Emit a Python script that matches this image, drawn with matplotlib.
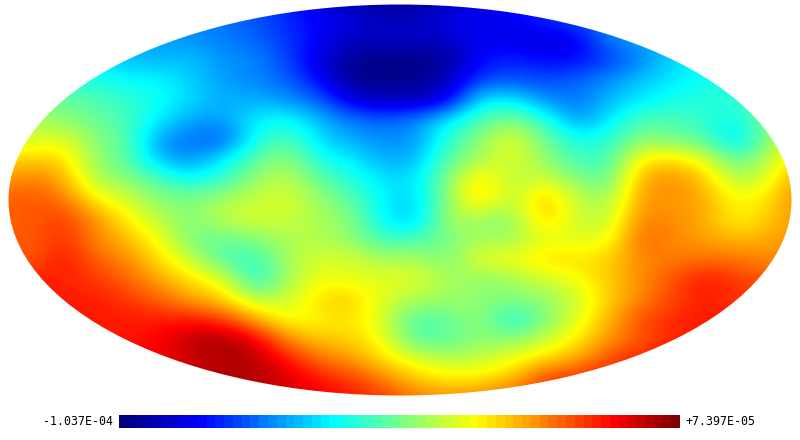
import numpy as np
import matplotlib
matplotlib.use("Agg")
import matplotlib.pyplot as plt
import matplotlib.patches as patches
from matplotlib.colors import LinearSegmentedColormap, Normalize

# map sample positions in picture pixels
x_px = np.arange(0, 801, 32)
y_px = np.arange(0, 401, 20)

vmin = -1.037e-4
vmax = 7.397e-5
vmin_label = "-1.037E-04"
vmax_label = "+7.397E-05"

# values, in units of 1e-6, one row per y_px
map_values = [
    [-45,-45,-45,-45,-50,-50,-55,-60,-65,-75,-85,-95,-100,-98,-90,-80,-80,-72,-65,-55,-50,-45,-40,-40,-35,-35],
    [-45,-45,-45,-45,-50,-50,-55,-60,-65,-72,-80,-85,-92,-90,-85,-82,-80,-72,-65,-55,-50,-45,-40,-40,-35,-35],
    [-40,-40,-40,-45,-50,-52,-55,-57,-62,-70,-80,-90,-90,-90,-88,-80,-84,-87,-84,-58,-50,-45,-40,-35,-35,-35],
    [-35,-35,-35,-40,-47,-48,-45,-55,-55,-68,-85,-101,-102,-103,-100,-78,-72,-78,-78,-70,-58,-42,-38,-35,-30,-30],
    [-25,-25,-28,-32,-36,-36,-45,-52,-57,-62,-78,-102,-102,-102,-90,-68,-65,-67,-62,-55,-45,-40,-33,-30,-28,-25],
    [-15,-15,-18,-22,-27,-34,-42,-50,-48,-55,-62,-85,-92,-92,-85,-38,-38,-55,-60,-48,-40,-32,-30,-28,-25,-20],
    [-5,-5,-10,-17,-25,-38,-52,-52,-38,-33,-48,-58,-62,-55,-38,-22,-12,-27,-55,-40,-22,-22,-28,-35,-10,-5],
    [5,0,7,-12,-20,-55,-60,-65,-32,-20,-42,-50,-55,-55,-28,-10,8,-15,-32,-30,-10,-15,-20,-45,-12,10],
    [15,20,17,-10,-20,-48,-55,-38,-18,-8,-32,-38,-50,-48,-20,-5,5,-8,-25,-25,14,18,8,-20,-2,20],
    [28,33,25,-5,-10,-22,-35,-25,-8,0,-18,-30,-40,-42,-10,18,-5,3,-10,-20,25,30,22,-5,5,30],
    [38,40,35,12,2,-12,-12,-5,0,4,-8,-20,-38,-45,-10,20,-5,25,0,-8,28,28,25,10,15,32],
    [38,38,45,30,12,-2,-15,0,3,0,-5,-12,-38,-48,-3,-10,-12,20,0,-2,32,30,25,10,18,30],
    [40,38,47,30,22,8,-15,-20,-12,-5,-3,-10,-25,-22,-15,-5,-8,5,5,5,38,30,27,22,25,30],
    [40,38,52,38,30,15,0,-22,-28,-5,3,3,-5,-3,-15,8,8,17,15,18,30,33,35,35,30,30],
    [50,50,48,45,37,25,15,6,-33,-5,8,5,5,5,-5,-12,-8,0,8,18,30,40,52,45,40,40],
    [50,50,50,50,45,38,25,18,-2,0,18,20,3,-5,-8,-10,-12,-10,0,18,30,42,50,45,45,45],
    [50,50,50,50,50,50,52,45,25,8,10,15,2,-25,-18,-8,-35,-15,5,22,42,48,50,50,50,50],
    [50,50,50,50,50,55,66,70,58,30,20,18,8,-20,-20,-10,-10,0,12,28,38,48,50,50,50,50],
    [50,50,50,50,55,55,60,66,66,52,35,28,15,5,-2,0,8,17,25,42,52,50,50,50,50,50],
    [50,50,50,55,60,62,66,66,66,60,52,45,33,20,14,15,22,45,50,50,50,50,50,50,50,50],
    [50,50,50,55,60,62,66,66,66,60,55,52,45,35,30,35,40,45,48,50,50,50,50,50,50,50],
]

# colour table taken from the colour bar
cmap = LinearSegmentedColormap.from_list("map_jet", [
    (0.00, "#000080"),
    (0.14, "#0000ff"),
    (0.38, "#00ffff"),
    (0.64, "#ffff00"),
    (0.89, "#ff0000"),
    (1.00, "#800000"),
], N=256)
norm = Normalize(vmin, vmax)

fig = plt.figure(figsize=(8, 4.4), dpi=100)
ax = fig.add_axes([0, 0, 1, 1])

# the map, clipped to the projection outline
step_x = x_px[1] - x_px[0]
step_y = y_px[1] - y_px[0]
im = ax.imshow(np.array(map_values) * 1e-6, cmap=cmap, norm=norm, aspect="auto",
               interpolation="bicubic",
               extent=(x_px[0] - step_x / 2, x_px[-1] + step_x / 2,
                       y_px[-1] + step_y / 2, y_px[0] - step_y / 2))
outline = patches.Ellipse((400, 200), 783, 391, transform=ax.transData)
im.set_clip_path(outline)

# colour bar
bar = np.linspace(vmin, vmax, 64).reshape(1, -1)
ax.imshow(bar, cmap=cmap, norm=norm, aspect="auto", interpolation="nearest",
          extent=(119, 680, 428, 415))
ax.text(113, 421.5, vmin_label, ha="right", va="center", family="DejaVu Sans Mono", fontsize=8.4, color="black")
ax.text(686, 421.5, vmax_label, ha="left", va="center", family="DejaVu Sans Mono", fontsize=8.4, color="black")

ax.set_xlim(0, 800)
ax.set_ylim(440, 0)
ax.axis("off")
fig.savefig("out.png", dpi=100, facecolor="white")
